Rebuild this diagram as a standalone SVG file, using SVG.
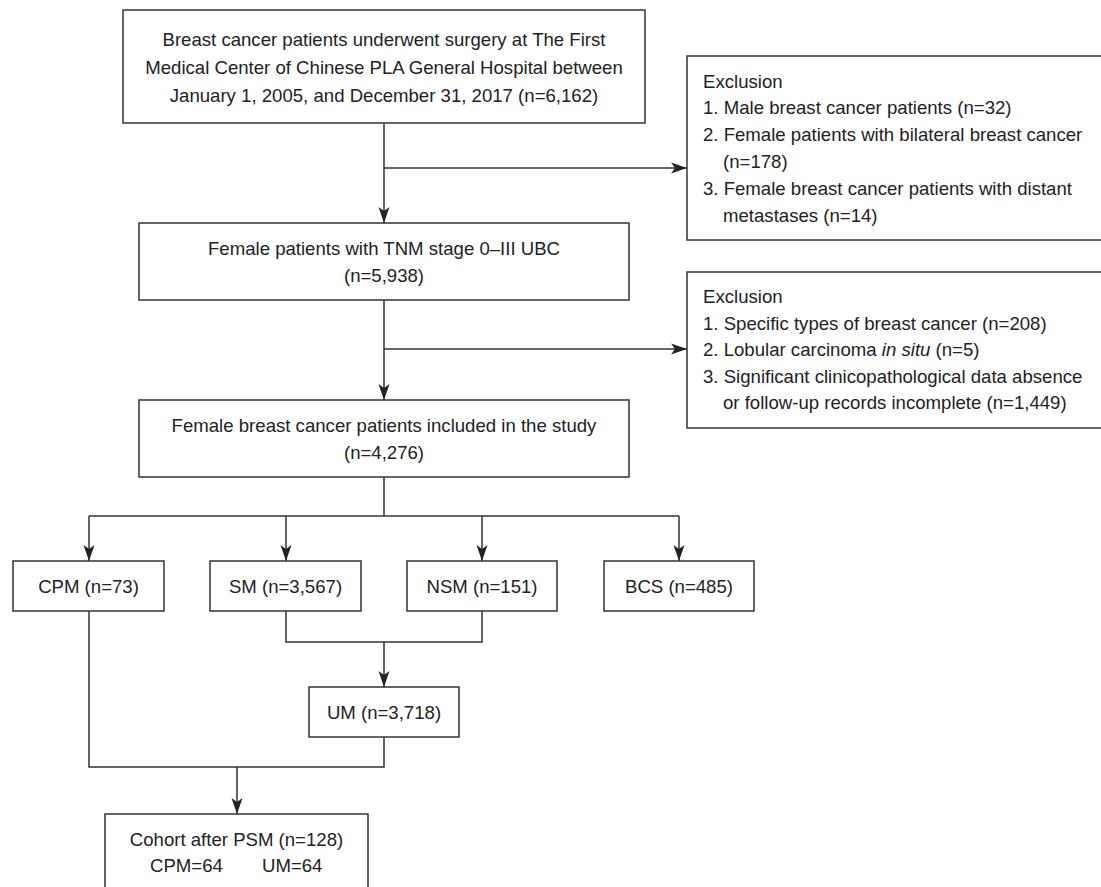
<svg xmlns="http://www.w3.org/2000/svg" width="1101" height="887" viewBox="0 0 1101 887">
<style>
.box{fill:#fff;stroke:#333;stroke-width:1.5}
.ln{fill:none;stroke:#333;stroke-width:1.5}
.t{font-family:"Liberation Sans",Arial,sans-serif;font-size:18.6px;fill:#222}
.c{text-anchor:middle}
</style>
<defs>
<marker id="ah" markerUnits="userSpaceOnUse" viewBox="0 -6 16 12" refX="16" refY="0" markerWidth="16" markerHeight="12" orient="auto">
<path d="M0,-5.5 L16,0 L0,5.5 L4,0 Z" fill="#222"/>
</marker>
</defs>
<rect width="1101" height="887" fill="#fff"/>
<g id="connectors">
<line class="ln" x1="384" y1="123" x2="384" y2="223" marker-end="url(#ah)"/>
<line class="ln" x1="384" y1="168" x2="687" y2="168" marker-end="url(#ah)"/>
<line class="ln" x1="384" y1="300" x2="384" y2="400" marker-end="url(#ah)"/>
<line class="ln" x1="384" y1="349" x2="687" y2="349" marker-end="url(#ah)"/>
<polyline class="ln" points="384,477 384,516"/>
<polyline class="ln" points="89,516 679,516"/>
<line class="ln" x1="89" y1="516" x2="89" y2="561" marker-end="url(#ah)"/>
<line class="ln" x1="286" y1="516" x2="286" y2="561" marker-end="url(#ah)"/>
<line class="ln" x1="482" y1="516" x2="482" y2="561" marker-end="url(#ah)"/>
<line class="ln" x1="679" y1="516" x2="679" y2="561" marker-end="url(#ah)"/>
<polyline class="ln" points="286,611 286,642 482,642 482,611"/>
<line class="ln" x1="384" y1="642" x2="384" y2="687" marker-end="url(#ah)"/>
<polyline class="ln" points="384,737 384,767 89,767 89,611"/>
<line class="ln" x1="237" y1="767" x2="237" y2="814" marker-end="url(#ah)"/>
</g>
<g id="n-total">
<rect class="box" x="123" y="10" width="522" height="113"/>
<text class="t c" x="384" y="45.7">Breast cancer patients underwent surgery at The First</text>
<text class="t c" x="384" y="73.7">Medical Center of Chinese PLA General Hospital between</text>
<text class="t c" x="384" y="101.7">January 1, 2005, and December 31, 2017 (n=6,162)</text>
</g>
<g id="n-excl1">
<rect class="box" x="687" y="56" width="420" height="184"/>
<text class="t" x="703" y="87.5">Exclusion</text>
<text class="t" x="703" y="114.3">1. Male breast cancer patients (n=32)</text>
<text class="t" x="703" y="141.1">2. Female patients with bilateral breast cancer</text>
<text class="t" x="723" y="167.9">(n=178)</text>
<text class="t" x="703" y="194.7">3. Female breast cancer patients with distant</text>
<text class="t" x="723" y="221.5">metastases (n=14)</text>
</g>
<g id="n-stage">
<rect class="box" x="139" y="223" width="490" height="77"/>
<text class="t c" x="384" y="255">Female patients with TNM stage 0–III UBC</text>
<text class="t c" x="384" y="282">(n=5,938)</text>
</g>
<g id="n-excl2">
<rect class="box" x="687" y="272" width="420" height="156"/>
<text class="t" x="703" y="303.3">Exclusion</text>
<text class="t" x="703" y="329.8">1. Specific types of breast cancer (n=208)</text>
<text class="t" x="703" y="356.3">2. Lobular carcinoma <tspan font-style="italic">in situ</tspan> (n=5)</text>
<text class="t" x="703" y="382.8">3. Significant clinicopathological data absence</text>
<text class="t" x="723" y="409.3">or follow-up records incomplete (n=1,449)</text>
</g>
<g id="n-study">
<rect class="box" x="139" y="400" width="490" height="77"/>
<text class="t c" x="384" y="432">Female breast cancer patients included in the study</text>
<text class="t c" x="384" y="459">(n=4,276)</text>
</g>
<g id="n-cpm">
<rect class="box" x="13" y="561" width="151" height="50"/>
<text class="t c" x="88.5" y="592.7">CPM (n=73)</text>
</g>
<g id="n-sm">
<rect class="box" x="210" y="561" width="151" height="50"/>
<text class="t c" x="285.5" y="592.7">SM (n=3,567)</text>
</g>
<g id="n-nsm">
<rect class="box" x="407" y="561" width="150" height="50"/>
<text class="t c" x="482" y="592.7">NSM (n=151)</text>
</g>
<g id="n-bcs">
<rect class="box" x="604" y="561" width="150" height="50"/>
<text class="t c" x="679" y="592.7">BCS (n=485)</text>
</g>
<g id="n-um">
<rect class="box" x="309" y="687" width="150" height="50"/>
<text class="t c" x="384" y="718.7">UM (n=3,718)</text>
</g>
<g id="n-cohort">
<rect class="box" x="105" y="814" width="263" height="90"/>
<text class="t c" x="236.5" y="846">Cohort after PSM (n=128)</text>
<text class="t" x="150" y="872">CPM=64</text>
<text class="t" x="262" y="872">UM=64</text>
</g>
</svg>
